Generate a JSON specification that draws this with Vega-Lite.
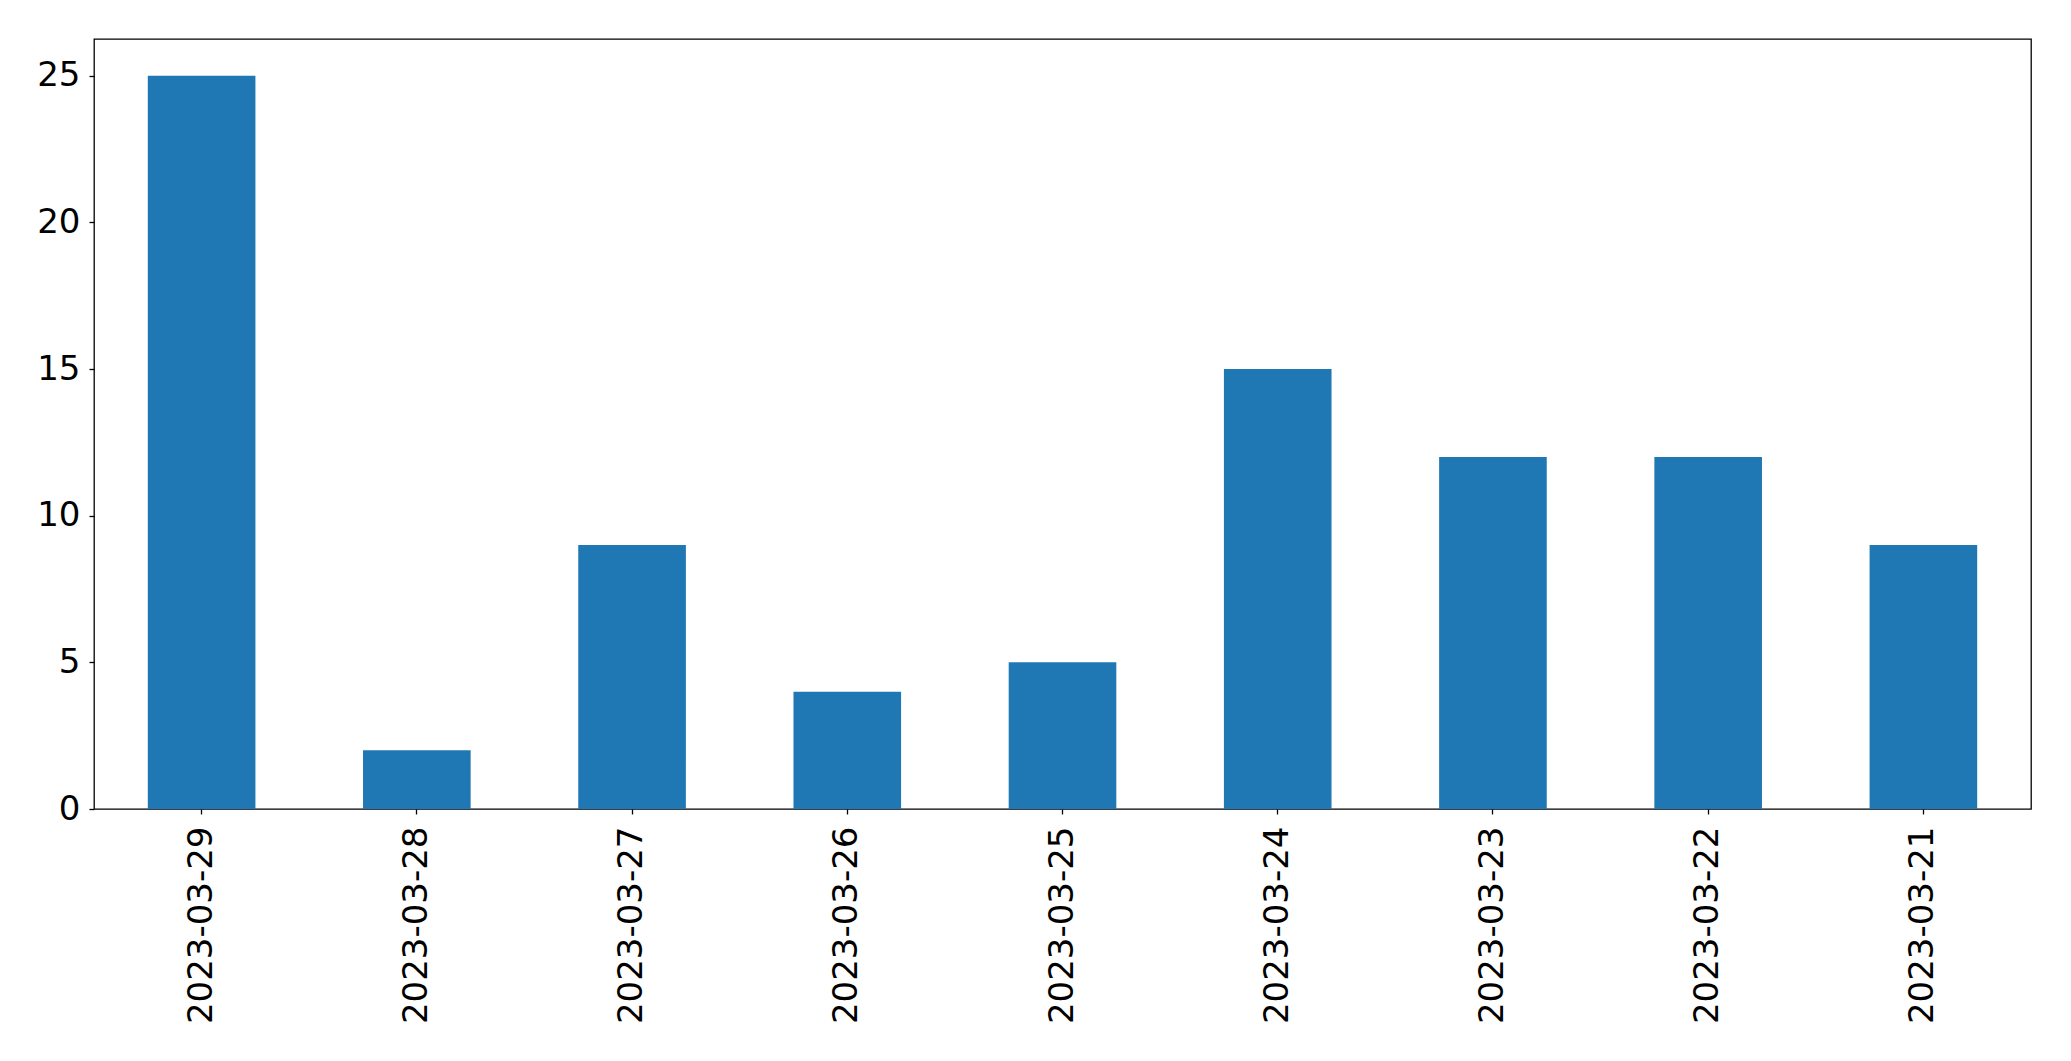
{
  "$schema": "https://vega.github.io/schema/vega-lite/v6.json",
  "width": 1937,
  "height": 770,
  "autosize": {"type": "none"},
  "padding": {"left": 94, "top": 39, "right": 40, "bottom": 252},
  "background": "white",
  "config": {
    "view": {"stroke": "black", "strokeWidth": 1.3},
    "axis": {
      "labelFont": "DejaVu Sans",
      "labelFontSize": 34,
      "labelColor": "black",
      "labelLimit": 0,
      "tickColor": "black",
      "tickSize": 5,
      "tickWidth": 1.3,
      "domain": false,
      "grid": false,
      "title": null
    }
  },
  "data": {
    "values": [
      {"date": "2023-03-29", "count": 25},
      {"date": "2023-03-28", "count": 2},
      {"date": "2023-03-27", "count": 9},
      {"date": "2023-03-26", "count": 4},
      {"date": "2023-03-25", "count": 5},
      {"date": "2023-03-24", "count": 15},
      {"date": "2023-03-23", "count": 12},
      {"date": "2023-03-22", "count": 12},
      {"date": "2023-03-21", "count": 9}
    ]
  },
  "mark": {"type": "bar", "color": "#1f77b4"},
  "encoding": {
    "x": {
      "field": "date",
      "type": "nominal",
      "sort": null,
      "scale": {"paddingInner": 0.5, "paddingOuter": 0.25},
      "axis": {"labelAngle": -90, "labelPadding": 12, "labelAlign": "right", "labelBaseline": "middle"}
    },
    "y": {
      "field": "count",
      "type": "quantitative",
      "scale": {"domain": [0, 26.25], "nice": false},
      "axis": {"values": [0, 5, 10, 15, 20, 25], "labelPadding": 9}
    }
  }
}
